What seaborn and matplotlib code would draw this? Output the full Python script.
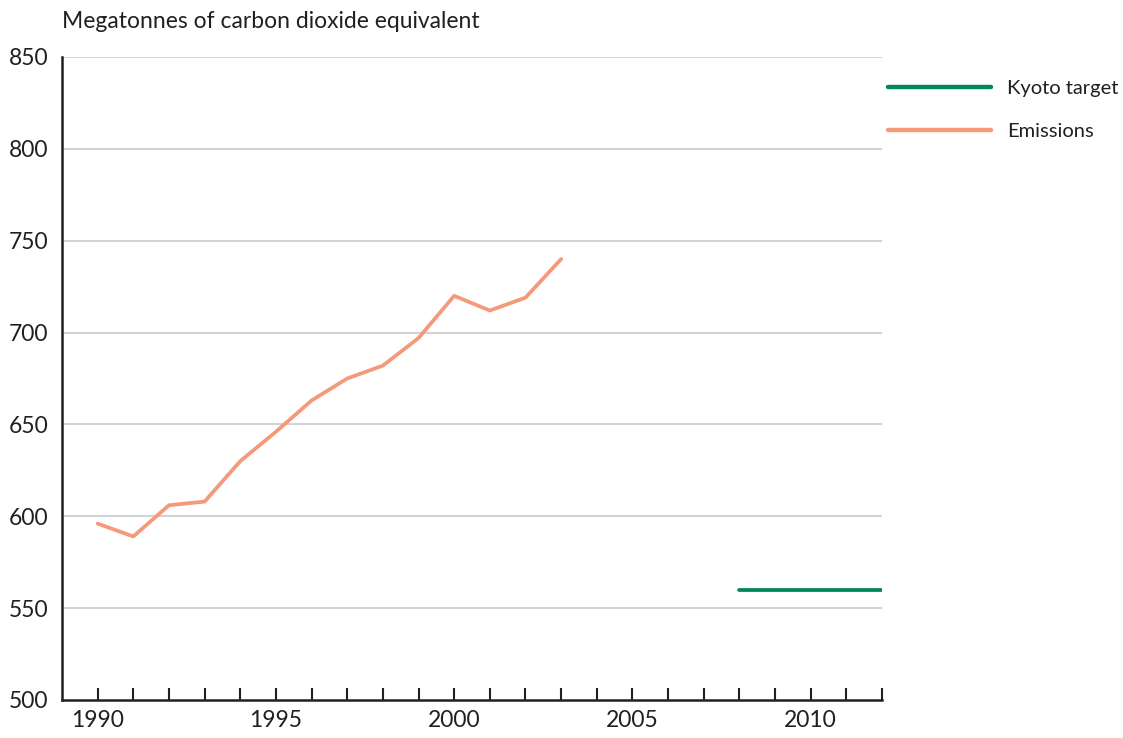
import matplotlib
matplotlib.use("Agg")
import matplotlib.pyplot as plt
import seaborn as sns
import pandas as pd

emission_years = [1990, 1991, 1992, 1993, 1994, 1995, 1996, 1997, 1998, 1999, 2000, 2001, 2002, 2003]
emission_values = [596, 589, 606, 608, 630, 646, 663, 675, 682, 697, 720, 712, 719, 740]
kyoto_years = [2008, 2009, 2010, 2011, 2012]
kyoto_values = [560, 560, 560, 560, 560]
yticks = [500, 550, 600, 650, 700, 750, 800, 850]
xticklabels = [1990, 1995, 2000, 2005, 2010]

sns.set_theme(style="white")
plt.rcParams['font.family'] = ['Lato', 'DejaVu Sans']

df = pd.concat([
    pd.DataFrame({"year": kyoto_years, "value": kyoto_values, "series": "Kyoto target"}),
    pd.DataFrame({"year": emission_years, "value": emission_values, "series": "Emissions"}),
])

FS = 16.5
LFS = 14.5
fig = plt.figure(figsize=(11.23, 7.38), dpi=100)
ax = fig.add_axes([0.0552, 0.0515, 0.7302, 0.8713])

palette = {"Kyoto target": "#00875A", "Emissions": "#F4997A"}
sns.lineplot(data=df, x="year", y="value", hue="series", palette=palette,
             linewidth=2.7, ax=ax, legend=True)
for ln in ax.get_lines():
    ln.set_solid_capstyle("round")

ax.set_xlim(1989, 2012)
ax.set_ylim(500, 850)
ax.set_yticks(yticks)
ax.set_yticklabels([str(v) for v in yticks], fontsize=FS, color="#231F20")
ax.set_xticks(list(range(1990, 2013)))
ax.set_xticklabels([str(y) if y in xticklabels else "" for y in range(1990, 2013)],
                   fontsize=FS, color="#231F20")
ax.tick_params(axis="x", direction="in", length=9, width=1.5, color="#231F20", pad=7, bottom=True)
ax.tick_params(axis="y", length=0, pad=10, left=False)
for y in yticks[1:]:
    ax.axhline(y, color="#D3D3D3", linewidth=1.5, zorder=0)
for s in ["top", "right"]:
    ax.spines[s].set_visible(False)
for s in ["left", "bottom"]:
    ax.spines[s].set_color("#231F20")
    ax.spines[s].set_linewidth(1.8)
ax.set_xlabel("")
ax.set_ylabel("")
fig.text(0.0552, 0.956, "Megatonnes of carbon dioxide equivalent", fontsize=FS,
         color="#231F20", ha="left", va="bottom")

leg = ax.legend(loc="upper left", bbox_to_anchor=(0.784, 0.903), bbox_transform=fig.transFigure,
                frameon=False, fontsize=LFS, handlelength=5.1, handletextpad=0.8,
                labelspacing=1.3, borderaxespad=0)
for t in leg.get_texts():
    t.set_color("#231F20")
for h in leg.get_lines():
    h.set_linewidth(3.2)
    h.set_solid_capstyle("round")

fig.savefig("out.png", dpi=100)
